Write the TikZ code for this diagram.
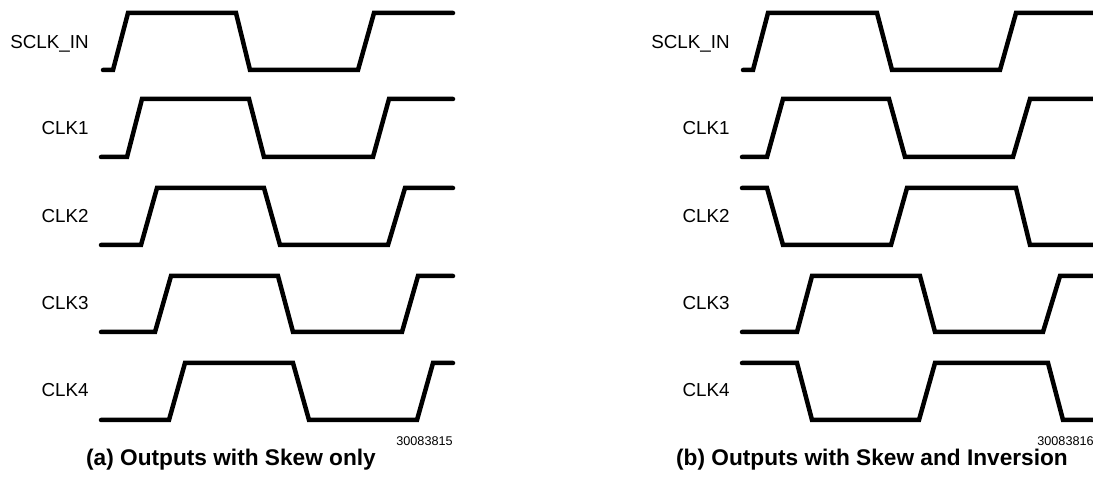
\documentclass[tikz,border=0pt]{standalone}
\usepackage{fontspec}
\setmainfont{Liberation Sans}
\usetikzlibrary{calc}
\tikzstyle{wave}=[draw=black,line width=0.09cm,line cap=round]
\tikzstyle{siglabel}=[anchor=base east,inner sep=0pt,font=\fontsize{10.7}{12}\selectfont]
\tikzstyle{figno}=[anchor=base east,inner sep=0pt,font=\fontsize{7.2}{8}\selectfont]
\tikzstyle{caption}=[anchor=base,inner sep=0pt,font=\fontsize{12.9}{15}\selectfont\bfseries]

\begin{document}
\begin{tikzpicture}[x=0.02cm,y=-0.02cm]
  \useasboundingbox (0,0) rectangle (1093,479);

  % (a) skew only
  \node[siglabel] (a-sclk) at (89,49)  {SCLK\_IN};
  \node[siglabel] (a-clk1) at (89,135) {CLK1};
  \node[siglabel] (a-clk2) at (89,223) {CLK2};
  \node[siglabel] (a-clk3) at (89,310) {CLK3};
  \node[siglabel] (a-clk4) at (89,397) {CLK4};

  \draw[wave] (103,70)--(113,70)--(128,13)--(236,13)--(250,70)--(358,70)--(374,13)--(453,13);
  \draw[wave] (101,157)--(127,157)--(142,99)--(249,99)--(264,157)--(373,157)--(389,99)--(453,99);
  \draw[wave] (101,245)--(141,245)--(157,188)--(264,188)--(280,245)--(388,245)--(405,188)--(453,188);
  \draw[wave] (101,332)--(155,332)--(171,276)--(278,276)--(293,332)--(402,332)--(418,276)--(453,276);
  \draw[wave] (101,420)--(169,420)--(185,363)--(293,363)--(309,420)--(417,420)--(433,363)--(453,363);

  \node[figno]  (a-no)  at (453,446) {30083815};
  \node[caption] (a-cap) at (231,466) {(a) Outputs with Skew only};

  % (b) skew and inversion
  \node[siglabel] (b-sclk) at (730,49)  {SCLK\_IN};
  \node[siglabel] (b-clk1) at (730,135) {CLK1};
  \node[siglabel] (b-clk2) at (730,223) {CLK2};
  \node[siglabel] (b-clk3) at (730,310) {CLK3};
  \node[siglabel] (b-clk4) at (730,397) {CLK4};

  \draw[wave] (743,70)--(753,70)--(768,13)--(877,13)--(892,70)--(1000,70)--(1016,13)--(1100,13);
  \draw[wave] (742,157)--(767,157)--(783,99)--(889,99)--(905,157)--(1013,157)--(1030,99)--(1100,99);
  \draw[wave] (742,188)--(767,188)--(783,245)--(891,245)--(907,188)--(1016,188)--(1030,245)--(1100,245);
  \draw[wave] (742,332)--(797,332)--(812,276)--(920,276)--(935,332)--(1043,332)--(1060,276)--(1100,276);
  \draw[wave] (742,363)--(797,363)--(812,420)--(919,420)--(935,363)--(1048,363)--(1063,420)--(1100,420);

  \node[figno]  (b-no)  at (1094,446) {30083816};
  \node[caption] (b-cap) at (872,466) {(b) Outputs with Skew and Inversion};
\end{tikzpicture}
\end{document}
